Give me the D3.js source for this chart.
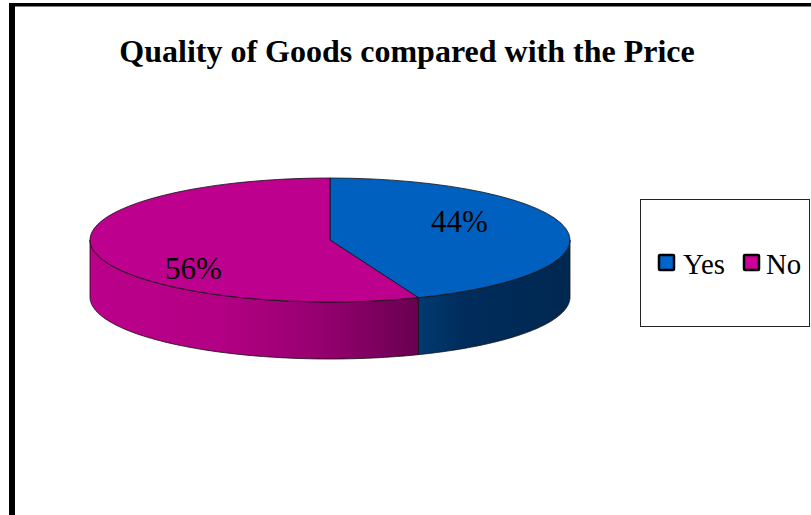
<!DOCTYPE html>
<html>
<head>
<meta charset="utf-8">
<script src="https://cdn.jsdelivr.net/npm/d3@7/dist/d3.min.js"></script>
<style>
html,body{margin:0;padding:0;background:#fff;overflow:hidden}
svg{display:block}
text{font-family:"Liberation Serif","Times New Roman",serif;fill:#000}
</style>
</head>
<body>
<svg id="chart" width="811" height="515"></svg>
<script>
const chartTitle = "Quality of Goods compared with the Price";
const categories = ["Yes", "No"];
const shares = [44, 56];
const topColors = ["#0060bf", "#be008e"];
const legendColors = ["#0066cc", "#cc0099"];
const sideStops = [
  [["0", "#003a70"], ["0.3", "#002c5c"], ["1", "#002850"]],
  [["0", "#bb008b"], ["0.4", "#b30084"], ["0.7", "#960070"], ["1", "#690050"]]
];

const svg = d3.select("#chart");
const cx = 330, cy = 240, rx = 240, ry = 62, depth = 57;

// Outer frame: only the top and left rules fall inside the page.
svg.append("rect").attr("x", 9).attr("y", 3).attr("width", 802).attr("height", 3.5).attr("fill", "#000");
svg.append("rect").attr("x", 9).attr("y", 3).attr("width", 6).attr("height", 512).attr("fill", "#000");

svg.append("text").attr("x", 407).attr("y", 62).attr("text-anchor", "middle")
  .attr("font-size", 32).attr("font-weight", "bold").text(chartTitle);

const pie = d3.pie().sort(null).value(d => d);
const slices = pie(shares);

const xAt = a => cx + rx * Math.sin(a);
const yAt = a => cy - ry * Math.cos(a);

const defs = svg.append("defs");

// Rim of the disc: the part of each slice's outer edge on the near side.
function rimPath(a0, a1) {
  const from = Math.max(a0, Math.PI / 2), to = Math.min(a1, Math.PI * 1.5);
  if (to <= from) return null;
  const samples = d3.range(0, 81).map(i => from + (to - from) * i / 80);
  const edge = d3.line().x(d => d[0]).y(d => d[1]);
  const upper = samples.map(a => [xAt(a), yAt(a)]);
  const lower = samples.slice().reverse().map(a => [xAt(a), yAt(a) + depth]);
  return { d: edge(upper.concat(lower)) + "Z", x0: xAt(from), x1: xAt(to) };
}

slices.forEach((s, i) => {
  const rim = rimPath(s.startAngle, s.endAngle);
  const left = Math.min(rim.x0, rim.x1), right = Math.max(rim.x0, rim.x1);
  const grad = defs.append("linearGradient").attr("id", "side" + i)
    .attr("gradientUnits", "userSpaceOnUse")
    .attr("x1", left).attr("x2", right).attr("y1", 0).attr("y2", 0);
  sideStops[i].forEach(st => grad.append("stop").attr("offset", st[0]).attr("stop-color", st[1]));
  svg.append("path").attr("d", rim.d).attr("fill", `url(#side${i})`)
    .attr("stroke", "#111").attr("stroke-width", 0.8).attr("stroke-linejoin", "round");
});

// Top face: a flat d3 arc squashed into an ellipse.
const arc = d3.arc().innerRadius(0).outerRadius(rx);
svg.append("g").attr("transform", `translate(${cx},${cy}) scale(1,${ry / rx})`)
  .selectAll("path").data(slices).join("path")
  .attr("d", arc)
  .attr("fill", (d, i) => topColors[i])
  .attr("stroke", "#111").attr("stroke-width", 0.8)
  .attr("vector-effect", "non-scaling-stroke");

// Percentage labels sit on the top face.
const labelPos = [[459.5, 232], [193.5, 279]];
svg.selectAll("text.pct").data(shares).join("text").attr("class", "pct")
  .attr("x", (d, i) => labelPos[i][0]).attr("y", (d, i) => labelPos[i][1])
  .attr("text-anchor", "middle").attr("font-size", 31).text(d => d + "%");

// Legend
svg.append("rect").attr("x", 640.5).attr("y", 199.5).attr("width", 169).attr("height", 127)
  .attr("fill", "#fff").attr("stroke", "#222").attr("stroke-width", 1);
const legendX = [659, 744];
const legendTextGap = [24, 22];
const legend = svg.selectAll("g.key").data(categories).join("g").attr("class", "key")
  .attr("transform", (d, i) => `translate(${legendX[i]},255)`);
legend.append("rect").attr("width", 15).attr("height", 15)
  .attr("fill", (d, i) => legendColors[i]).attr("stroke", "#000").attr("stroke-width", 2.5).attr("rx", 1);
legend.append("text").attr("transform", (d, i) => `translate(${legendTextGap[i]},19) scale(0.96,1)`)
  .attr("font-size", 30).text(d => d);
</script>
</body>
</html>
